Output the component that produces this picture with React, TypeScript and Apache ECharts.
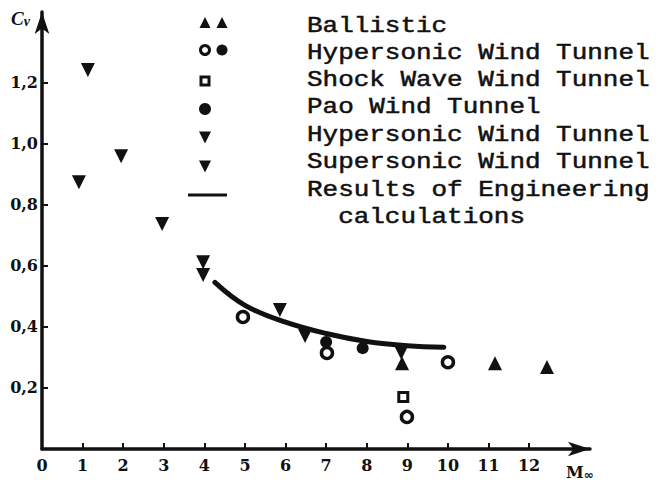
import React, { useEffect, useRef } from 'react';
import * as echarts from 'echarts';

// ---- data ----
const ballistic: number[][] = [[8.87, 0.281], [11.16, 0.281], [12.44, 0.268]];
const hyperCircle: number[][] = [[4.95, 0.432], [7.02, 0.314], [8.99, 0.105], [10.0, 0.284]];
const shockWave: number[][] = [[8.9, 0.17]];
const paoTunnel: number[][] = [[7.0, 0.35], [7.9, 0.33]];
const hyperTriangle: number[][] = [[3.97, 0.611], [5.86, 0.455], [6.48, 0.37], [8.85, 0.315]];
const superTriangle: number[][] = [[0.91, 0.873], [1.13, 1.24], [1.95, 0.958], [2.96, 0.736], [3.97, 0.569]];
const engineering: number[][] = [[4.26, 0.545], [5, 0.47], [6, 0.415], [7, 0.378], [8, 0.352], [9, 0.338], [9.9, 0.333]];

const xTickValues = [0, 1, 2, 3, 4, 5, 6, 7, 8, 9, 10, 11, 12];
const yTickValues = [0.2, 0.4, 0.6, 0.8, 1.0, 1.2];
const legendTexts = [
  'Ballistic',
  'Hypersonic Wind Tunnel',
  'Shock Wave Wind Tunnel',
  'Pao Wind Tunnel',
  'Hypersonic Wind Tunnel',
  'Supersonic Wind Tunnel',
  'Results of Engineering',
  '  calculations',
];

const INK = '#111';

function triUp(cx: number, cy: number, s: number) {
  return { type: 'polygon', shape: { points: [[cx, cy - s * 0.55], [cx + s / 2, cy + s * 0.45], [cx - s / 2, cy + s * 0.45]] }, style: { fill: INK } };
}
function triDown(cx: number, cy: number, s: number) {
  return { type: 'polygon', shape: { points: [[cx - s / 2, cy - s * 0.45], [cx + s / 2, cy - s * 0.45], [cx, cy + s * 0.55]] }, style: { fill: INK } };
}

export default function App() {
  const ref = useRef<HTMLDivElement>(null);
  useEffect(() => {
    if (!ref.current) return;
    const chart = echarts.init(ref.current, undefined, { renderer: 'svg' });

    const textX = 307;
    const rowY = [26, 53, 80, 107, 135, 162, 190, 217];
    const legendGraphics: any[] = [
      triUp(205, 23, 11), triUp(222, 23, 11),
      { type: 'circle', shape: { cx: 205, cy: 50, r: 4.5 }, style: { fill: '#fff', stroke: INK, lineWidth: 3 } },
      { type: 'circle', shape: { cx: 222, cy: 50, r: 5.5 }, style: { fill: INK } },
      { type: 'rect', shape: { x: 201, y: 77, width: 8, height: 8 }, style: { fill: '#fff', stroke: INK, lineWidth: 3 } },
      { type: 'circle', shape: { cx: 205, cy: 109, r: 6 }, style: { fill: INK } },
      triDown(205, 137, 12),
      triDown(205, 166, 12),
      { type: 'line', shape: { x1: 188, y1: 195, x2: 227, y2: 195 }, style: { stroke: INK, lineWidth: 3 } },
      ...legendTexts.map((t, i) => ({
        type: 'text',
        x: textX,
        y: rowY[i],
        scaleX: 1.18,
        style: {
          text: t,
          fill: INK,
          stroke: INK,
          lineWidth: 0.5,
          font: '22px "Liberation Mono", monospace',
          textVerticalAlign: 'middle',
          textAlign: 'left',
        },
      })),
      {
        type: 'text', x: 11, y: 8,
        style: {
          text: '{c|C}{s|v}',
          rich: {
            c: { fontFamily: 'Liberation Serif', fontStyle: 'italic', fontWeight: 'bold', fontSize: 19, fill: INK },
            s: { fontFamily: 'Liberation Serif', fontStyle: 'italic', fontWeight: 'bold', fontSize: 14, fill: INK, padding: [6, 0, 0, 0] },
          },
        },
      },
      {
        type: 'text', x: 566, y: 464,
        style: {
          text: '{m|M}{s|∞}',
          rich: {
            m: { fontFamily: 'DejaVu Serif', fontWeight: 'bold', fontSize: 16, fill: INK },
            s: { fontFamily: 'DejaVu Sans', fontWeight: 'bold', fontSize: 12, fill: INK, padding: [5, 0, 0, 0] },
          },
        },
      },
    ];

    const labelStyle = {
      color: INK,
      fontFamily: 'DejaVu Serif',
      fontWeight: 'bold' as const,
      fontSize: 16,
    };

    const sc = (extra: any) => ({ type: 'scatter', ...extra, itemStyle: { opacity: 1, ...extra.itemStyle } });

    chart.setOption({
      animation: false,
      backgroundColor: '#fff',
      grid: { left: 42, right: 67, top: 12, bottom: 32, containLabel: false },
      xAxis: {
        type: 'value',
        min: 0,
        max: 13.5,
        interval: 1,
        splitLine: { show: false },
        axisLine: { onZero: false, lineStyle: { color: INK, width: 3.5 }, symbol: ['none', 'arrow'], symbolSize: [11, 22] },
        axisTick: { show: true, inside: true, length: 6, lineStyle: { color: INK, width: 2 }, customValues: xTickValues.filter((v) => v > 0) },
        axisLabel: { ...labelStyle, margin: 8, customValues: xTickValues, formatter: (v: number) => String(v) },
      },
      yAxis: {
        type: 'value',
        min: 0,
        max: 1.43,
        splitLine: { show: false },
        axisLine: { onZero: false, lineStyle: { color: INK, width: 3.5 }, symbol: ['none', 'arrow'], symbolSize: [11, 22] },
        axisTick: { show: true, inside: true, length: 6, lineStyle: { color: INK, width: 2 }, customValues: yTickValues },
        axisLabel: { ...labelStyle, margin: 4, customValues: yTickValues, formatter: (v: number) => v.toFixed(1).replace('.', ',') },
      },
      graphic: legendGraphics,
      series: [
        sc({ name: 'Ballistic', data: ballistic, symbol: 'triangle', symbolSize: 14, itemStyle: { color: INK } }),
        sc({ name: 'Hypersonic Wind Tunnel', data: hyperCircle, symbol: 'circle', symbolSize: 11, itemStyle: { color: '#fff', borderColor: INK, borderWidth: 3.5 } }),
        sc({ name: 'Shock Wave Wind Tunnel', data: shockWave, symbol: 'rect', symbolSize: 9, itemStyle: { color: '#fff', borderColor: INK, borderWidth: 3 } }),
        sc({ name: 'Pao Wind Tunnel', data: paoTunnel, symbol: 'circle', symbolSize: 12, itemStyle: { color: INK } }),
        sc({ name: 'Hypersonic Wind Tunnel ▼', data: hyperTriangle, symbol: 'triangle', symbolRotate: 180, symbolSize: 14, itemStyle: { color: INK } }),
        sc({ name: 'Supersonic Wind Tunnel', data: superTriangle, symbol: 'triangle', symbolRotate: 180, symbolSize: 14, itemStyle: { color: INK } }),
        { name: 'Results of Engineering calculations', type: 'line', data: engineering, smooth: 0.4, showSymbol: false, lineStyle: { color: INK, width: 5, cap: 'round' } },
      ],
    });
    return () => chart.dispose();
  }, []);
  return <div ref={ref} style={{ position: 'fixed', left: 0, top: 0, width: 657, height: 481, background: '#fff' }} />;
}
